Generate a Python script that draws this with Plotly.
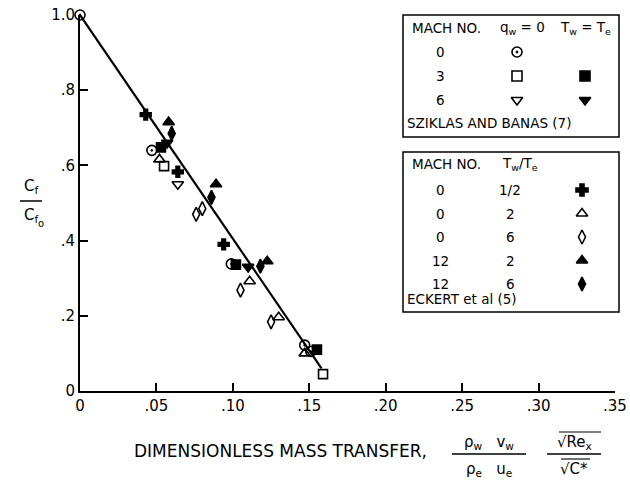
import plotly.graph_objects as go

# ---------------- data ----------------
# Sziklas and Banas (7)
sb_m0_qw0_x = [0.0, 0.047, 0.099, 0.147, 0.151]
sb_m0_qw0_y = [1.0, 0.640, 0.338, 0.122, 0.105]
sb_m3_qw0_x = [0.055, 0.159]
sb_m3_qw0_y = [0.598, 0.045]
sb_m3_tw_x = [0.053, 0.102, 0.155]
sb_m3_tw_y = [0.648, 0.336, 0.110]
sb_m6_qw0_x = [0.064]
sb_m6_qw0_y = [0.550]
sb_m6_tw_x = [0.057, 0.110]
sb_m6_tw_y = [0.660, 0.330]
# Eckert et al (5)
ek_m0_half_x = [0.043, 0.064, 0.094]
ek_m0_half_y = [0.735, 0.583, 0.390]
ek_m0_2_x = [0.052, 0.111, 0.130, 0.147]
ek_m0_2_y = [0.616, 0.292, 0.196, 0.100]
ek_m0_6_x = [0.076, 0.080, 0.105, 0.125]
ek_m0_6_y = [0.470, 0.485, 0.268, 0.184]
ek_m12_2_x = [0.058, 0.089, 0.1225]
ek_m12_2_y = [0.715, 0.550, 0.345]
ek_m12_6_x = [0.060, 0.086, 0.118]
ek_m12_6_y = [0.685, 0.515, 0.332]
# correlation line
line_x = [0.0, 0.158]
line_y = [1.0, 0.060]

x_ticks = [0, 0.05, 0.10, 0.15, 0.20, 0.25, 0.30, 0.35]
x_ticktext = ["0", ".05", ".10", ".15", ".20", ".25", ".30", ".35"]
y_ticks = [0, 0.2, 0.4, 0.6, 0.8, 1.0]
y_ticktext = ["0", ".2", ".4", ".6", ".8", "1.0"]

# legend table contents
sb_rows = [("0", "circle-open-dot", None), ("3", "square-open", "square"),
           ("6", "triangle-down-open", "triangle-down")]
ek_rows = [("0", "1/2", "cross"), ("0", "2", "triangle-up-open"),
           ("0", "6", "diamond-tall-open"), ("12", "2", "triangle-up"),
           ("12", "6", "diamond-tall")]

# ---------------- layout geometry (pixels) ----------------
W, H = 630, 483
L, R, T, B = 80, 15, 15, 92
PW, PH = W - L - R, H - T - B
FONT = "DejaVu Sans"
NB = "\u00a0"


def px(x):
    return (x - L) / PW


def py(y):
    return (H - B - y) / PH


fig = go.Figure()

fig.add_trace(go.Scatter(x=line_x, y=line_y, mode="lines",
                         line=dict(color="black", width=2.2),
                         hoverinfo="skip", cliponaxis=False))


def add_pts(xs, ys, sym, size=9):
    fig.add_trace(go.Scatter(
        x=xs, y=ys, mode="markers", cliponaxis=False,
        marker=dict(symbol=sym, size=size, color="black",
                    line=dict(color="black", width=1.6))))


add_pts(sb_m0_qw0_x, sb_m0_qw0_y, "circle-open-dot", 10)
add_pts(sb_m3_qw0_x, sb_m3_qw0_y, "square-open", 9)
add_pts(sb_m3_tw_x, sb_m3_tw_y, "square", 9)
add_pts(sb_m6_qw0_x, sb_m6_qw0_y, "triangle-down-open", 10)
add_pts(sb_m6_tw_x, sb_m6_tw_y, "triangle-down", 10)
add_pts(ek_m0_half_x, ek_m0_half_y, "cross", 9)
add_pts(ek_m0_2_x, ek_m0_2_y, "triangle-up-open", 10)
add_pts(ek_m0_6_x, ek_m0_6_y, "diamond-tall-open", 10)
add_pts(ek_m12_2_x, ek_m12_2_y, "triangle-up", 10)
add_pts(ek_m12_6_x, ek_m12_6_y, "diamond-tall", 10)

shapes = []
ann = []


def text(x, y, s, size=12, xanchor="center"):
    ann.append(dict(x=px(x), y=py(y), xref="paper", yref="paper", text=s,
                    showarrow=False, xanchor=xanchor, yanchor="middle",
                    font=dict(family=FONT, size=size, color="black")))


def hline(x0, x1, y, w=1.5):
    shapes.append(dict(type="line", xref="paper", yref="paper",
                       x0=px(x0), x1=px(x1), y0=py(y), y1=py(y),
                       line=dict(color="black", width=w)))


def box(x0, y0, x1, y1):
    shapes.append(dict(type="rect", xref="paper", yref="paper",
                       x0=px(x0), x1=px(x1), y0=py(y0), y1=py(y1),
                       line=dict(color="black", width=1.5)))


LF = 13.5
# legend box 1
box(403, 15, 619, 137)
text(446, 28, "MACH NO.", LF)
text(522, 28, "q<sub>w</sub> = 0", LF)
text(585, 28, "T<sub>w</sub> = T<sub>e</sub>", LF)
leg_x, leg_y, leg_s = [], [], []
for i, (m, s1, s2) in enumerate(sb_rows):
    yy = 52 + 24 * i
    text(440, yy, m, LF)
    leg_x.append(517); leg_y.append(yy); leg_s.append(s1)
    if s2:
        leg_x.append(585); leg_y.append(yy); leg_s.append(s2)
text(405, 123, "SZIKLAS AND BANAS (7)", LF, "left")

# legend box 2
box(403, 152, 619, 312)
text(446, 164, "MACH NO.", LF)
text(520, 164, "T<sub>w</sub>/T<sub>e</sub>", LF)
for i, (m, r, s) in enumerate(ek_rows):
    yy = 190 + 23.5 * i
    text(440, yy, m, LF)
    text(510, yy, r, LF)
    leg_x.append(582); leg_y.append(yy); leg_s.append(s)
text(405, 299, "ECKERT et al (5)", LF, "left")

fig.add_trace(go.Scatter(x=leg_x, y=leg_y, mode="markers", xaxis="x2",
                         yaxis="y2", cliponaxis=False,
                         marker=dict(symbol=leg_s, size=10, color="black",
                                     line=dict(color="black", width=1.6))))

# y-axis title (fraction)
text(31, 186, "C<sub>f</sub>", 15)
hline(20, 42, 201, 1.5)
text(31, 216, "C<sub>f</sub>", 15)
text(41, 223, "o", 10)

# x-axis title
text(280, 451, "DIMENSIONLESS MASS TRANSFER,", 17)
text(489, 442, "ρ<sub>w</sub>" + NB * 3 + "v<sub>w</sub>", 15)
hline(452, 526, 454, 1.3)
text(489, 469, "ρ<sub>e</sub>" + NB * 3 + "u<sub>e</sub>", 15)
text(574, 442, "√Re<sub>x</sub>", 15)
hline(559, 601, 432, 1.1)
hline(547, 601, 454, 1.3)
text(574, 469, "√C*", 15)
hline(561, 590, 459, 1.1)

fig.update_layout(
    width=W, height=H, margin=dict(l=L, r=R, t=T, b=B, autoexpand=False),
    paper_bgcolor="white", plot_bgcolor="white", showlegend=False,
    shapes=shapes, annotations=ann,
    font=dict(family=FONT, color="black"),
    xaxis=dict(range=[0, 0.35001], tickvals=x_ticks, ticktext=x_ticktext,
               ticks="inside", ticklen=8, tickwidth=2, tickcolor="black",
               showline=True, linewidth=2, linecolor="black",
               showgrid=False, zeroline=False, ticklabeloverflow="allow",
               automargin=False,
               tickfont=dict(family=FONT, size=15, color="black")),
    yaxis=dict(range=[0, 1.00001], tickvals=y_ticks, ticktext=y_ticktext,
               ticks="inside", ticklen=8, tickwidth=2, tickcolor="black",
               showline=True, linewidth=2, linecolor="black",
               showgrid=False, zeroline=False, ticklabeloverflow="allow",
               automargin=False,
               tickfont=dict(family=FONT, size=15, color="black")),
    xaxis2=dict(range=[L, W - R], overlaying="x", visible=False),
    yaxis2=dict(range=[H - B, T], overlaying="y", visible=False),
)

fig.write_html("out.html")
